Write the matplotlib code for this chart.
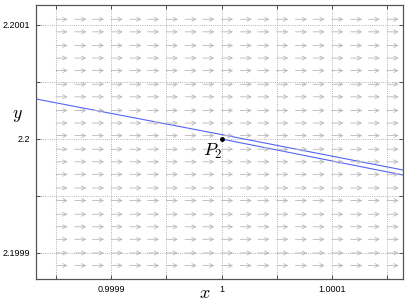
import numpy as np
import matplotlib.pyplot as plt

plt.rcParams['mathtext.fontset'] = 'cm'
plt.rcParams['font.family'] = ['Liberation Sans', 'DejaVu Sans']

# punto de equilibrio
x_eq = 1.0
y_eq = 2.2

# malla del campo de direcciones (desplazamientos en unidades de 1e-5)
campo_dx = [-15.0, -13.3, -11.7, -10.0, -8.3, -6.7, -5.0, -3.3, -1.7, 0.0,
            1.7, 3.3, 5.0, 6.7, 8.3, 10.0, 11.7, 13.3, 15.0]
campo_dy = [-11.1, -10.0, -8.8, -7.7, -6.6, -5.4, -4.3, -3.1, -2.0, -0.9,
            0.3, 1.4, 2.5, 3.7, 4.8, 6.0, 7.1, 8.2, 9.4, 10.5]
largo_flecha = 1.05  # en unidades de 1e-5

# trayectorias
tray1_x = [0.99983188, 1.0, 1.00016449]
tray1_y = [2.2000351, 2.2000039, 2.1999728]
tray2_x = [1.0, 1.00016449]
tray2_y = [2.2, 2.1999684]

# ejes
xlim = (0.99983188, 1.00016449)
ylim = (2.19987719, 2.20011754)
xticks = [0.99985, 0.9999, 0.99995, 1.0, 1.00005, 1.0001, 1.00015]
xticklabels = ['', '0.9999', '', '1', '', '1.0001', '']
yticks = [2.1999, 2.19995, 2.2, 2.20005, 2.2001]
yticklabels = ['2.1999', '', '2.2', '', '2.2001']

fig = plt.figure(figsize=(4.09, 3.00), dpi=100)
ax = fig.add_axes([36 / 409, 21 / 300, 367 / 409, 274 / 300])

for dx in campo_dx:
    for dy in campo_dy:
        x0 = x_eq + dx * 1e-5
        y0 = y_eq + dy * 1e-5
        ax.annotate('', xy=(x0 + largo_flecha * 1e-5, y0), xytext=(x0, y0),
                    arrowprops=dict(arrowstyle='->', color='#b8b8b8', lw=0.6,
                                    shrinkA=0, shrinkB=0, mutation_scale=7),
                    annotation_clip=False)

ax.plot(tray1_x, tray1_y, color='#5565f5', lw=0.8)
ax.plot(tray2_x, tray2_y, color='#5565f5', lw=0.8)

ax.plot([x_eq], [y_eq], 'o', color='black', ms=2.5)
ax.annotate('$P_2$', xy=(x_eq, y_eq), xytext=(-6, -2), textcoords='offset points',
            ha='center', va='top', fontsize=13)

ax.set_xlim(xlim)
ax.set_ylim(ylim)
ax.set_xticks(xticks)
ax.set_xticklabels(xticklabels)
ax.set_yticks(yticks)
ax.set_yticklabels(yticklabels)
ax.tick_params(direction='in', length=3, width=0.6, labelsize=6.5, color='#333333',
               top=True, right=True, pad=4)
ax.grid(True, linestyle=':', color='#999999', lw=0.6)
for s in ax.spines.values():
    s.set_color('#555555')
    s.set_linewidth(0.9)

ax.set_xlabel('$x$', fontsize=13, va='center')
ax.xaxis.set_label_coords((205 - 36) / 367, -(293 - 279) / 274)
ax.set_ylabel('$y$', fontsize=13, rotation=0, va='center', ha='center')
ax.yaxis.set_label_coords((17 - 36) / 367, (279 - 115) / 274)

fig.savefig('out.png', dpi=100)
